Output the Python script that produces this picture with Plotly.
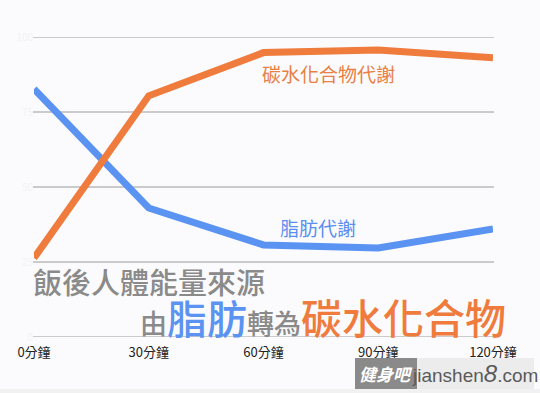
import plotly.graph_objects as go

minutes = [0, 30, 60, 90, 120]
tick_labels = ["0分鐘", "30分鐘", "60分鐘", "90分鐘", "120分鐘"]
fat = [82.7, 43.0, 30.7, 29.7, 36.0]
carb = [26.3, 80.4, 94.8, 95.7, 93.1]
y_ticks = [0, 25, 50, 75, 100]

W, H = 540, 393
L, R, T, B = 34, 47, 37, 56
PW, PH = W - L - R, H - T - B

def px(xp):
    return (xp - L) / PW

def py(yp):
    return (H - B - yp) / PH

CJK = "Noto Sans CJK TC, Noto Sans CJK SC, sans-serif"
BLUE = "#5b93f2"
ORANGE = "#ef7b3d"

fig = go.Figure()
fig.add_trace(go.Scatter(x=minutes, y=fat, mode="lines",
                         line=dict(color=BLUE, width=7), cliponaxis=False,
                         hoverinfo="skip"))
fig.add_trace(go.Scatter(x=minutes, y=carb, mode="lines",
                         line=dict(color=ORANGE, width=7), cliponaxis=False,
                         hoverinfo="skip"))

shapes = []
# horizontal gridlines at the y ticks
for v in y_ticks:
    shapes.append(dict(type="line", xref="paper", yref="y", x0=px(33), x1=px(494),
                       y0=v, y1=v, line=dict(color="#9a9a9a", width=1), layer="below"))
# watermark
shapes.append(dict(type="rect", xref="paper", yref="paper", x0=px(417), x1=px(534),
                   y0=py(389), y1=py(358), fillcolor="#ececec", line=dict(width=0), layer="above"))
shapes.append(dict(type="rect", xref="paper", yref="paper", x0=px(355), x1=px(417),
                   y0=py(389), y1=py(358), fillcolor="#8a8a8a", line=dict(width=0), layer="above"))
shapes.append(dict(type="rect", xref="paper", yref="paper", x0=px(0), x1=px(540),
                   y0=py(393), y1=py(389), fillcolor="#f1f1f1", line=dict(width=0), layer="below"))

def ann(text, xc, yc, font, xanchor="center"):
    return dict(text=text, x=px(xc), y=py(yc), xref="paper", yref="paper",
                xanchor=xanchor, yanchor="middle", showarrow=False, font=font)

annotations = [
    ann("碳水化合物代謝", 328, 74, dict(family=CJK, size=19, color="#e97f45")),
    ann("脂肪代謝", 318, 227, dict(family=CJK, size=19, color="#5a8ff0")),
    ann("飯後人體能量來源", 31, 281, dict(family=CJK, size=29, color="#8a8a8a", weight=500),
        xanchor="left"),
    ann(("<span style='font-size:27px;color:#8a8a8a'>由</span>"
         "<span style='font-size:40px;color:#5b93f2'>脂肪</span>"
         "<span style='font-size:27px;color:#8a8a8a'>轉為</span>"
         "<span style='font-size:41px;color:#ef7b3d'>碳水化合物</span>"),
        508, 316, dict(family=CJK, size=40, color="#8a8a8a", weight=500), xanchor="right"),
    ann("<i><b>健身吧</b></i>", 386, 373, dict(family=CJK, size=17, color="#ffffff")),
    ann("jianshen<span style='font-size:24px'><i>8</i></span>.com", 475, 373,
        dict(family="Liberation Sans, Arial, sans-serif", size=19, color="#5a5a5a")),
]

fig.update_layout(
    width=W, height=H,
    margin=dict(l=L, r=R, t=T, b=B),
    paper_bgcolor="#fbfbfd", plot_bgcolor="#fbfbfd",
    showlegend=False,
    shapes=shapes, annotations=annotations,
    xaxis=dict(range=[0, 120], tickvals=minutes, ticktext=tick_labels,
               showgrid=False, zeroline=False, showline=False, ticks="",
               tickfont=dict(family=CJK, size=13, color="#222222"),
               ticklabelstandoff=6),
    yaxis=dict(range=[0, 100], tickvals=y_ticks, ticktext=[str(v) for v in y_ticks],
               showgrid=False, zeroline=False, showline=False, ticks="",
               tickfont=dict(family=CJK, size=10, color="#f2f2f5")),
)

fig.write_html("out.html", config={"displayModeBar": False},
               post_script="document.body.style.margin='0';document.body.style.overflow='hidden';")
